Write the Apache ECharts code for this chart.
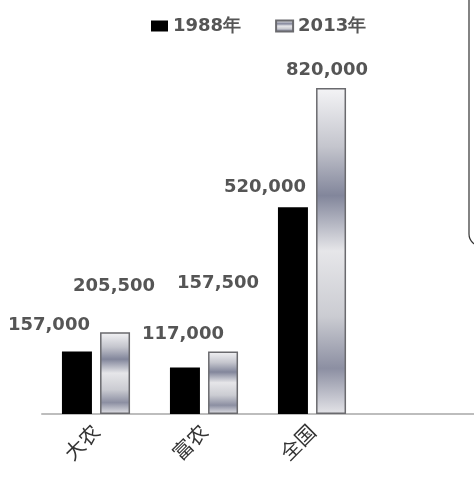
<!DOCTYPE html>
<html>
<head>
<meta charset="utf-8">
<script src="https://cdn.jsdelivr.net/npm/echarts@6/dist/echarts.min.js"></script>
<style>html,body{margin:0;padding:0;background:#fff;}#c{width:474px;height:484px;}</style>
</head>
<body>
<div id="c"></div>
<script>
var categories = ['大农', '富农', '全国', ''];
var seriesNames = ['1988年', '2013年'];
var values1988 = [157000, 117000, 520000, null];
var values2013 = [205500, 157500, 820000, null];

// label nudges (style only)
var shift1988 = [[-28, -13], [-2, -20], [-28, -7]];
var shift2013 = [[-1, -33], [-5, -55], [-4, -5]];

var metal = new echarts.graphic.LinearGradient(0, 0, 0, 1, [
  {offset: 0, color: '#f4f4f6'},
  {offset: 0.18, color: '#c4c5cd'},
  {offset: 0.33, color: '#82869b'},
  {offset: 0.5, color: '#e6e6e9'},
  {offset: 0.7, color: '#cbccd2'},
  {offset: 0.86, color: '#8c8fa2'},
  {offset: 1, color: '#e4e4e8'}
]);

function mk(vals, shifts) {
  return vals.map(function (v, i) {
    var s = shifts[i] || [0, 0];
    return {value: v, label: {offset: s}};
  });
}

var labelStyle = {
  show: true, position: 'top', distance: 4,
  fontFamily: 'DejaVu Sans', fontWeight: 'bold', fontSize: 18, color: '#555',
  formatter: function (p) { return p.value == null ? '' : p.value.toLocaleString('en-US'); }
};

var chart = echarts.init(document.getElementById('c'));
chart.setOption({
  animation: false,
  backgroundColor: '#fff',
  legend: {
    top: 12, left: 146, itemGap: 34, itemWidth: 17, itemHeight: 11, icon: 'rect',
    textStyle: {fontFamily: 'DejaVu Sans', fontWeight: 'bold', fontSize: 18, color: '#555'},
    data: seriesNames
  },
  grid: {left: 42, right: 0, top: 88, bottom: 70, containLabel: false},
  xAxis: {
    type: 'category', data: categories,
    axisLine: {lineStyle: {color: '#bdbdbd', width: 2}},
    axisTick: {show: false},
    axisLabel: {rotate: 45, fontFamily: 'Noto Sans CJK SC', fontWeight: 'normal', fontSize: 20, color: '#333', margin: 14, interval: 0}
  },
  yAxis: {
    type: 'value', min: 0, max: 820000, show: false,
    splitLine: {show: false}
  },
  series: [
    {
      name: seriesNames[0], type: 'bar', barWidth: 30, barGap: '27%',
      data: mk(values1988, shift1988),
      itemStyle: {color: '#000'},
      label: labelStyle
    },
    {
      name: seriesNames[1], type: 'bar', barWidth: 30, barGap: '27%',
      data: mk(values2013, shift2013),
      itemStyle: {color: metal, borderColor: '#6a6a6e', borderWidth: 1.5},
      label: labelStyle
    }
  ],
  graphic: [{
    type: 'rect', silent: true,
    shape: {x: 469, y: -20, width: 120, height: 266, r: 12},
    style: {fill: 'none', stroke: '#333', lineWidth: 1.2}
  }]
});
</script>
</body>
</html>
